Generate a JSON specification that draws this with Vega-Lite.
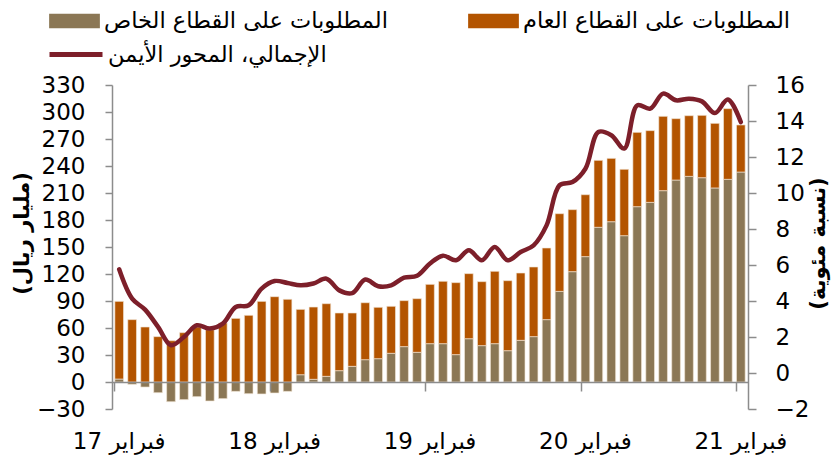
{
  "$schema": "https://vega.github.io/schema/vega-lite/v6.json",
  "width": 636,
  "height": 324,
  "autosize": {"type": "none"},
  "padding": {"left": 112, "top": 85, "right": 89, "bottom": 50},
  "background": "white",
  "config": {
    "font": "DejaVu Sans",
    "view": {"stroke": null},
    "axis": {"domainColor": "#8c8c8c", "tickColor": "#8c8c8c", "domainWidth": 1.5, "tickWidth": 1.5, "labelColor": "#000000", "grid": false, "labelFontSize": 23, "labelFont": "DejaVu Sans", "titleFont": "DejaVu Sans", "titleColor": "#000000"}
  },
  "data": {"values": [
    {"m": "2017-02", "private": 3.3, "public": 86.3, "total": 5.76},
    {"m": "2017-03", "private": -2.6, "public": 69.3, "total": 4.13},
    {"m": "2017-04", "private": -5.6, "public": 61.1, "total": 3.52},
    {"m": "2017-05", "private": -11.9, "public": 50.4, "total": 2.56},
    {"m": "2017-06", "private": -21.9, "public": 45.9, "total": 1.54},
    {"m": "2017-07", "private": -19.6, "public": 54.8, "total": 2.0},
    {"m": "2017-08", "private": -16.3, "public": 61.1, "total": 2.65},
    {"m": "2017-09", "private": -21.1, "public": 58.1, "total": 2.47},
    {"m": "2017-10", "private": -18.5, "public": 65.6, "total": 2.74},
    {"m": "2017-11", "private": -10.4, "public": 70.7, "total": 3.67},
    {"m": "2017-12", "private": -13.0, "public": 74.1, "total": 3.76},
    {"m": "2018-01", "private": -13.3, "public": 89.6, "total": 4.69},
    {"m": "2018-02", "private": -12.2, "public": 94.8, "total": 5.11},
    {"m": "2018-03", "private": -10.4, "public": 91.9, "total": 5.0},
    {"m": "2018-04", "private": 8.1, "public": 72.6, "total": 4.87},
    {"m": "2018-05", "private": 3.0, "public": 80.3, "total": 4.97},
    {"m": "2018-06", "private": 6.3, "public": 80.7, "total": 5.24},
    {"m": "2018-07", "private": 12.6, "public": 64.1, "total": 4.59},
    {"m": "2018-08", "private": 17.4, "public": 59.3, "total": 4.44},
    {"m": "2018-09", "private": 24.8, "public": 63.3, "total": 5.19},
    {"m": "2018-10", "private": 25.9, "public": 57.1, "total": 4.82},
    {"m": "2018-11", "private": 31.9, "public": 52.2, "total": 4.87},
    {"m": "2018-12", "private": 39.3, "public": 51.1, "total": 5.3},
    {"m": "2019-01", "private": 33.0, "public": 59.6, "total": 5.4},
    {"m": "2019-02", "private": 42.6, "public": 65.9, "total": 6.08},
    {"m": "2019-03", "private": 42.6, "public": 69.3, "total": 6.52},
    {"m": "2019-04", "private": 30.4, "public": 80.0, "total": 6.26},
    {"m": "2019-05", "private": 48.1, "public": 72.3, "total": 6.82},
    {"m": "2019-06", "private": 40.4, "public": 71.1, "total": 6.26},
    {"m": "2019-07", "private": 42.6, "public": 80.4, "total": 7.0},
    {"m": "2019-08", "private": 34.8, "public": 77.8, "total": 6.26},
    {"m": "2019-09", "private": 46.3, "public": 74.8, "total": 6.72},
    {"m": "2019-10", "private": 50.4, "public": 77.4, "total": 7.09},
    {"m": "2019-11", "private": 69.3, "public": 79.6, "total": 8.2},
    {"m": "2019-12", "private": 100.7, "public": 86.3, "total": 10.43},
    {"m": "2020-01", "private": 122.6, "public": 68.9, "total": 10.61},
    {"m": "2020-02", "private": 139.3, "public": 68.8, "total": 11.35},
    {"m": "2020-03", "private": 171.9, "public": 74.4, "total": 13.39},
    {"m": "2020-04", "private": 178.1, "public": 70.4, "total": 13.21},
    {"m": "2020-05", "private": 162.6, "public": 73.7, "total": 12.47},
    {"m": "2020-06", "private": 194.8, "public": 82.6, "total": 14.87},
    {"m": "2020-07", "private": 199.6, "public": 79.7, "total": 14.69},
    {"m": "2020-08", "private": 212.6, "public": 82.6, "total": 15.52},
    {"m": "2020-09", "private": 224.4, "public": 68.2, "total": 15.15},
    {"m": "2020-10", "private": 228.5, "public": 67.4, "total": 15.24},
    {"m": "2020-11", "private": 227.0, "public": 69.3, "total": 15.09},
    {"m": "2020-12", "private": 215.6, "public": 71.8, "total": 14.44},
    {"m": "2021-01", "private": 225.2, "public": 78.5, "total": 15.19},
    {"m": "2021-02", "private": 233.3, "public": 52.3, "total": 13.94}
  ]},
  "layer": [
    {
      "transform": [{"fold": ["private", "public"], "as": ["series", "value"]}],
      "mark": {"type": "bar", "stroke": "#f3e6d6", "strokeWidth": 0.8, "strokeOpacity": 0.8},
      "encoding": {
        "x": {
          "field": "m", "type": "ordinal",
          "scale": {"paddingInner": 0.33, "paddingOuter": 0.22},
          "axis": {
            "orient": "bottom", "title": null, "domain": false, "ticks": false, "tickSize": 0,
            "values": ["2017-02", "2018-02", "2019-02", "2020-02", "2021-02"],
            "labelExpr": "substring(datum.value, 2, 4) + ' فبراير'",
            "labelAngle": 0, "labelPadding": 21, "labelBaseline": "top"
          }
        },
        "y": {
          "field": "value", "type": "quantitative", "stack": "zero",
          "scale": {"domain": [-30, 330], "nice": false, "zero": false},
          "axis": {
            "orient": "left",
            "values": [-30, 0, 30, 60, 90, 120, 150, 180, 210, 240, 270, 300, 330],
            "tickSize": 7, "labelPadding": 20,
            "title": "(مليار ريال)", "titleFontSize": 21, "titleFontWeight": "bold",
            "titleAngle": -90, "titleX": -90, "titleY": 148, "titleAlign": "center", "titleBaseline": "middle"
          }
        },
        "color": {
          "field": "series", "type": "nominal",
          "scale": {"domain": ["private", "public"], "range": ["#8b7755", "#b35400"]},
          "legend": {
            "orient": "none", "legendX": -55, "legendY": -81.5, "direction": "horizontal", "columns": 2,
            "title": null, "labelFontSize": 22.5, "labelFont": "DejaVu Sans", "labelColor": "#000000",
            "symbolType": "M-1.45,-0.42H1.45V0.42H-1.45Z",
            "symbolSize": 1225, "symbolStrokeWidth": 0, "symbolOpacity": 1,
            "labelOffset": 12, "columnPadding": 80, "rowPadding": 0,
            "labelExpr": "datum.value == 'private' ? 'المطلوبات على القطاع الخاص' : 'المطلوبات على القطاع العام'",
            "labelLimit": 400
          }
        },
        "order": {"field": "series", "sort": "ascending"}
      }
    },
    {
      "mark": {"type": "line", "interpolate": "catmull-rom", "strokeWidth": 4.5, "strokeCap": "round"},
      "encoding": {
        "x": {
          "field": "m", "type": "ordinal",
          "axis": {
            "orient": "bottom", "offset": -27, "title": null, "labels": false, "domain": true,
            "ticks": true, "tickSize": 9, "bandPosition": 0, "zindex": 1,
            "values": ["2017-02", "2018-02", "2019-02", "2020-02", "2021-02"]
          }
        },
        "y": {
          "field": "total", "type": "quantitative",
          "scale": {"domain": [-2, 16], "nice": false, "zero": false},
          "axis": {
            "orient": "right",
            "values": [-2, 0, 2, 4, 6, 8, 10, 12, 14, 16],
            "tickSize": 8, "labelPadding": 19,
            "title": "(نسبة مئوية)", "titleFontSize": 21, "titleFontWeight": "bold",
            "titleAngle": -90, "titleX": 70, "titleY": 158, "titleAlign": "center", "titleBaseline": "middle"
          }
        },
        "stroke": {
          "datum": "total",
          "scale": {"domain": ["total"], "range": ["#7d1f2a"]},
          "legend": {
            "orient": "none", "legendX": -65, "legendY": -59.5, "title": null,
            "labelFontSize": 22.5, "labelFont": "DejaVu Sans", "labelColor": "#000000",
            "symbolType": "stroke", "symbolSize": 2809, "symbolStrokeWidth": 5,
            "labelOffset": 3, "labelLimit": 400,
            "labelExpr": "'الإجمالي، المحور الأيمن'"
          }
        }
      }
    }
  ],
  "resolve": {"scale": {"y": "independent"}, "axis": {"x": "independent"}}
}
